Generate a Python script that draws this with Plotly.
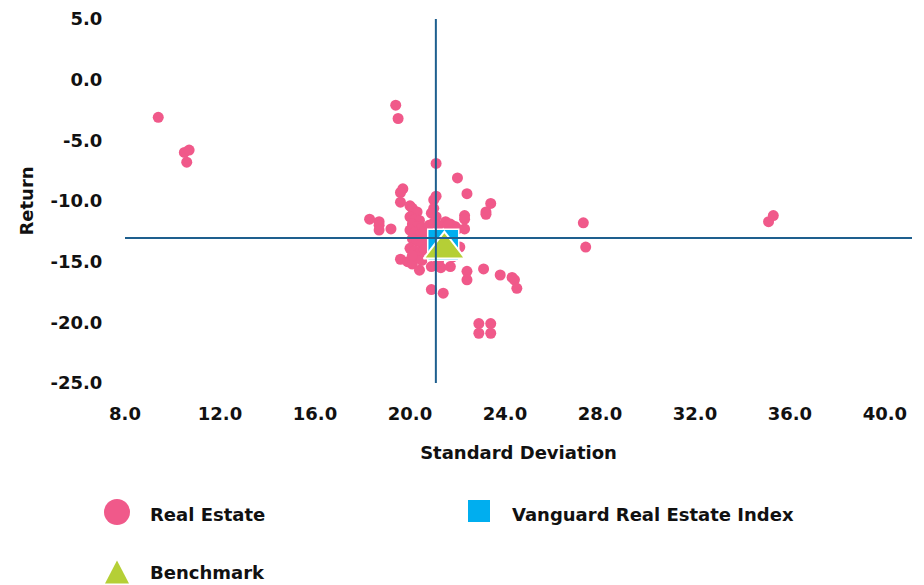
import plotly.graph_objects as go

# ---------------- data ----------------
re_sd = [
    9.4, 10.5, 10.7, 10.6,
    19.4, 19.5,
    21.1, 22.0, 22.4, 23.4, 23.2, 23.2,
    27.3, 27.4, 35.1, 35.3,
    19.7, 19.6, 19.6,
    18.3, 18.7, 18.7, 18.7, 19.2,
    22.3, 22.3, 22.3, 21.5, 21.7, 21.9, 22.1,
    19.6, 19.9, 20.1, 20.4, 20.9, 21.3, 21.7,
    22.4, 22.4, 23.1, 23.8, 24.3, 24.4, 24.5,
    20.9, 21.4,
    22.9, 23.4, 22.9, 23.4,
    20.0, 20.1, 20.3, 20.0, 20.2, 20.4, 20.1, 20.3, 20.5, 20.0, 20.2, 20.4, 20.6,
    20.1, 20.3, 20.5, 20.0, 20.2, 20.4, 20.6, 20.3, 20.5, 20.1, 20.7, 20.8,
    21.1, 21.0, 21.0, 20.9, 21.1, 21.0, 21.2,
    21.6, 22.0, 21.8, 21.2,
]
re_ret = [
    -3.1, -6.0, -5.8, -6.8,
    -2.1, -3.2,
    -6.9, -8.1, -9.4, -10.2, -10.9, -11.1,
    -11.8, -13.8, -11.7, -11.2,
    -9.0, -9.3, -10.1,
    -11.5, -11.7, -12.0, -12.4, -12.3,
    -11.2, -11.5, -12.3, -11.7, -11.9, -12.1, -13.8,
    -14.8, -15.0, -15.2, -15.7, -15.4, -15.5, -15.4,
    -15.8, -16.5, -15.6, -16.1, -16.3, -16.5, -17.2,
    -17.3, -17.6,
    -20.1, -20.1, -20.9, -20.9,
    -10.4, -10.6, -10.9, -11.3, -11.5, -11.6, -11.9, -12.1, -12.2, -12.4, -12.6, -12.8, -12.5,
    -13.1, -13.3, -13.5, -13.9, -14.1, -14.3, -14.0, -14.6, -14.9, -14.5, -13.2, -12.0,
    -9.6, -9.9, -10.6, -11.0, -11.3, -11.8, -12.0,
    -12.0, -12.3, -14.6, -15.0,
]
vanguard_sd = [21.4]
vanguard_ret = [-13.6]
benchmark_sd = [21.45]
benchmark_ret = [-14.0]
avg_sd = 21.09
avg_ret = -13.05

x_ticks = [8, 12, 16, 20, 24, 28, 32, 36, 40]
x_tick_text = ["8.0", "12.0", "16.0", "20.0", "24.0", "28.0", "32.0", "36.0", "40.0"]
y_ticks = [5, 0, -5, -10, -15, -20, -25]
y_tick_text = ["5.0", "0.0", "-5.0", "-10.0", "-15.0", "-20.0", "-25.0"]

series_names = ["Real Estate", "Vanguard Real Estate Index", "Benchmark"]

# ---------------- style ----------------
PINK = "#F0598A"
BLUE = "#00AEEF"
GREEN = "#B5CF36"
LINE = "#1E5F8E"
FONT = "DejaVu Sans"
TXT = "#111111"

PLOT_TOP = 19      # screen px of the plot's top edge
PLOT_H = 364
PLOT_BOTTOM = PLOT_TOP + PLOT_H

fig = go.Figure()
fig.add_trace(go.Scatter(x=re_sd, y=re_ret, mode="markers", name=series_names[0],
                         marker=dict(color=PINK, size=11, line=dict(width=0)),
                         showlegend=False))
fig.add_trace(go.Scatter(x=vanguard_sd, y=vanguard_ret, mode="markers", name=series_names[1],
                         marker=dict(color=BLUE, size=31, symbol="square",
                                     line=dict(color="white", width=1.5)),
                         showlegend=False))
fig.add_trace(go.Scatter(x=benchmark_sd, y=benchmark_ret, mode="markers", name=series_names[2],
                         marker=dict(color=GREEN, size=36, symbol="triangle-up",
                                     line=dict(color="white", width=2)),
                         showlegend=False))

shapes = [
    dict(type="line", xref="x", yref="y", x0=8, x1=41.14, y0=avg_ret, y1=avg_ret,
         line=dict(color=LINE, width=2), layer="above"),
    dict(type="line", xref="x", yref="y", x0=avg_sd, x1=avg_sd, y0=-25, y1=5.15,
         line=dict(color=LINE, width=2), layer="above"),
]

# custom legend (pixel-sized symbols anchored in paper coordinates)
def px_x(p):
    return (p - 125) / 787.0

def px_y(p):
    return (PLOT_BOTTOM - p) / float(PLOT_H)

shapes += [
    dict(type="circle", xref="paper", yref="paper", xsizemode="pixel", ysizemode="pixel",
         xanchor=px_x(117), yanchor=px_y(512), x0=-13, x1=13, y0=-13, y1=13,
         fillcolor=PINK, line=dict(width=0)),
    dict(type="rect", xref="paper", yref="paper", xsizemode="pixel", ysizemode="pixel",
         xanchor=px_x(479), yanchor=px_y(511), x0=-11, x1=11, y0=-11, y1=11,
         fillcolor=BLUE, line=dict(width=0)),
    dict(type="path", xref="paper", yref="paper", xsizemode="pixel", ysizemode="pixel",
         xanchor=px_x(117), yanchor=px_y(572), path="M-12,-11.5 L12,-11.5 L0,11.5 Z",
         fillcolor=GREEN, line=dict(width=0)),
]

annotations = [
    dict(text="<b>" + series_names[0] + "</b>", x=px_x(148), y=px_y(514)),
    dict(text="<b>" + series_names[1] + "</b>", x=px_x(510), y=px_y(514)),
    dict(text="<b>" + series_names[2] + "</b>", x=px_x(148), y=px_y(572)),
]
for a in annotations:
    a.update(xref="paper", yref="paper", xanchor="left", yanchor="middle", showarrow=False,
             font=dict(family=FONT, size=18, color=TXT))

fig.update_layout(
    width=924, height=585,
    margin=dict(l=117, r=20, t=PLOT_TOP - 8, b=585 - (PLOT_BOTTOM - 8)),
    plot_bgcolor="white", paper_bgcolor="white",
    font=dict(family=FONT, size=18, color=TXT),
    showlegend=False,
    shapes=shapes,
    annotations=annotations,
    xaxis=dict(range=[8, 41.14], tickvals=x_ticks, ticktext=["<b>%s</b>" % t for t in x_tick_text],
               showgrid=False, zeroline=False, showline=False, automargin=False,
               ticklabeloverflow="allow",
               ticks="outside", ticklen=14, tickcolor="rgba(0,0,0,0)",
               tickfont=dict(family=FONT, size=18, color=TXT),
               title=dict(text="<b>Standard Deviation</b>", standoff=23,
                          font=dict(family=FONT, size=18, color=TXT))),
    yaxis=dict(range=[-25, 5], tickvals=y_ticks, ticktext=["<b>%s</b>" % t for t in y_tick_text],
               showgrid=False, zeroline=False, showline=False, automargin=False,
               ticklabeloverflow="allow",
               ticks="outside", ticklen=18, tickcolor="rgba(0,0,0,0)",
               tickfont=dict(family=FONT, size=18, color=TXT),
               title=dict(text="<b>Return</b>", standoff=12,
                          font=dict(family=FONT, size=18, color=TXT))),
)

fig.write_html("out.html")
